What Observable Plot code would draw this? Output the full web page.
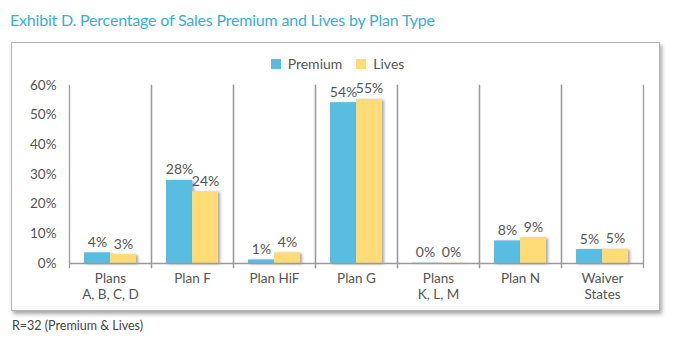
<!DOCTYPE html>
<html><head><meta charset="utf-8">
<script src="https://cdn.jsdelivr.net/npm/d3@7"></script>
<script src="https://cdn.jsdelivr.net/npm/@observablehq/plot@0.6"></script>
<style>
body{margin:0;background:#fff;font-family:Lato,sans-serif;width:674px;height:350px;position:relative;overflow:hidden}
#title{position:absolute;left:10px;top:10px;font-size:16px;letter-spacing:-0.2px;color:#3aaed8;white-space:nowrap}
#box{position:absolute;left:11px;top:42px;width:647px;height:267px;border:1.5px solid #b4b4b4;box-shadow:2px 3px 4px rgba(0,0,0,.35);background:#fff}
#legend{position:absolute;left:18px;right:0;top:4px;display:flex;justify-content:center;font-size:14px;color:#555}
#chart{position:absolute;left:0;top:30px}
#caption{position:absolute;left:12px;top:318px;font-size:12.5px;color:#444}
g[aria-label="bar"] rect{filter:drop-shadow(2px 1px 1.5px rgba(0,0,0,.35))}
</style></head>
<body>
<div id="title">Exhibit D. Percentage of Sales Premium and Lives by Plan Type</div>
<div id="box"><div id="legend"></div><div id="chart"></div></div>
<div id="caption">R=32 (Premium &amp; Lives)</div>
<script>
const categories = ["Plans\nA, B, C, D", "Plan F", "Plan HiF", "Plan G", "Plans\nK, L, M", "Plan N", "Waiver\nStates"];
const seriesNames = ["Premium", "Lives"];
const premium = [3.6, 28.0, 1.2, 54.2, 0.1, 7.6, 4.7];
const lives = [3.0, 24.2, 3.6, 55.3, 0.1, 8.7, 4.8];
const yTicks = [0, 10, 20, 30, 40, 50, 60];
const colors = ["#58bde0", "#ffdc78"];

const rows = [];
categories.forEach((c, i) => {
  rows.push({category: c, series: "Premium", value: premium[i]});
  rows.push({category: c, series: "Lives", value: lives[i]});
});

const plot = Plot.plot({
  width: 647, height: 237,
  marginLeft: 54, marginRight: 13, marginTop: 12, marginBottom: 47,
  style: {fontFamily: "Lato, sans-serif", fontSize: "13px", color: "#555", background: "transparent"},
  fx: {domain: categories, padding: 0},
  x: {domain: seriesNames, paddingInner: 0, paddingOuter: 0.57, axis: null},
  y: {domain: [0, 60]},
  color: {domain: seriesNames, range: colors},
  marks: [
    Plot.frame({anchor: "left", stroke: "#9a9a9a", strokeWidth: 1.3, insetBottom: -4}),
    Plot.frame({anchor: "right", stroke: "#9a9a9a", strokeWidth: 1.3, insetBottom: -4}),
    Plot.barY(rows, {fx: "category", x: "series", y: "value", fill: "series"}),
    Plot.ruleY([0], {stroke: "#9a9a9a", strokeWidth: 1.3}),
    Plot.text(rows, {fx: "category", x: "series", y: "value", text: d => Math.round(d.value) + "%", lineAnchor: "bottom", dy: -6, fill: "#555", fontSize: 14}),
    Plot.axisY({ticks: yTicks, tickFormat: d => d + "%", tickSize: 0, tickPadding: 13, fontSize: 13.5, fill: "#555", label: null}),
    Plot.axisFx({anchor: "bottom", tickSize: 0, tickPadding: 8, fontSize: 13.5, fill: "#555", lineHeight: 1.2, label: null})
  ]
});
document.getElementById("chart").appendChild(plot);

const leg = Plot.legend({color: {domain: seriesNames, range: colors}, swatchSize: 10, style: {fontFamily: "Lato, sans-serif", fontSize: "14px", color: "#555"}});
document.getElementById("legend").appendChild(leg);
</script>
</body></html>
